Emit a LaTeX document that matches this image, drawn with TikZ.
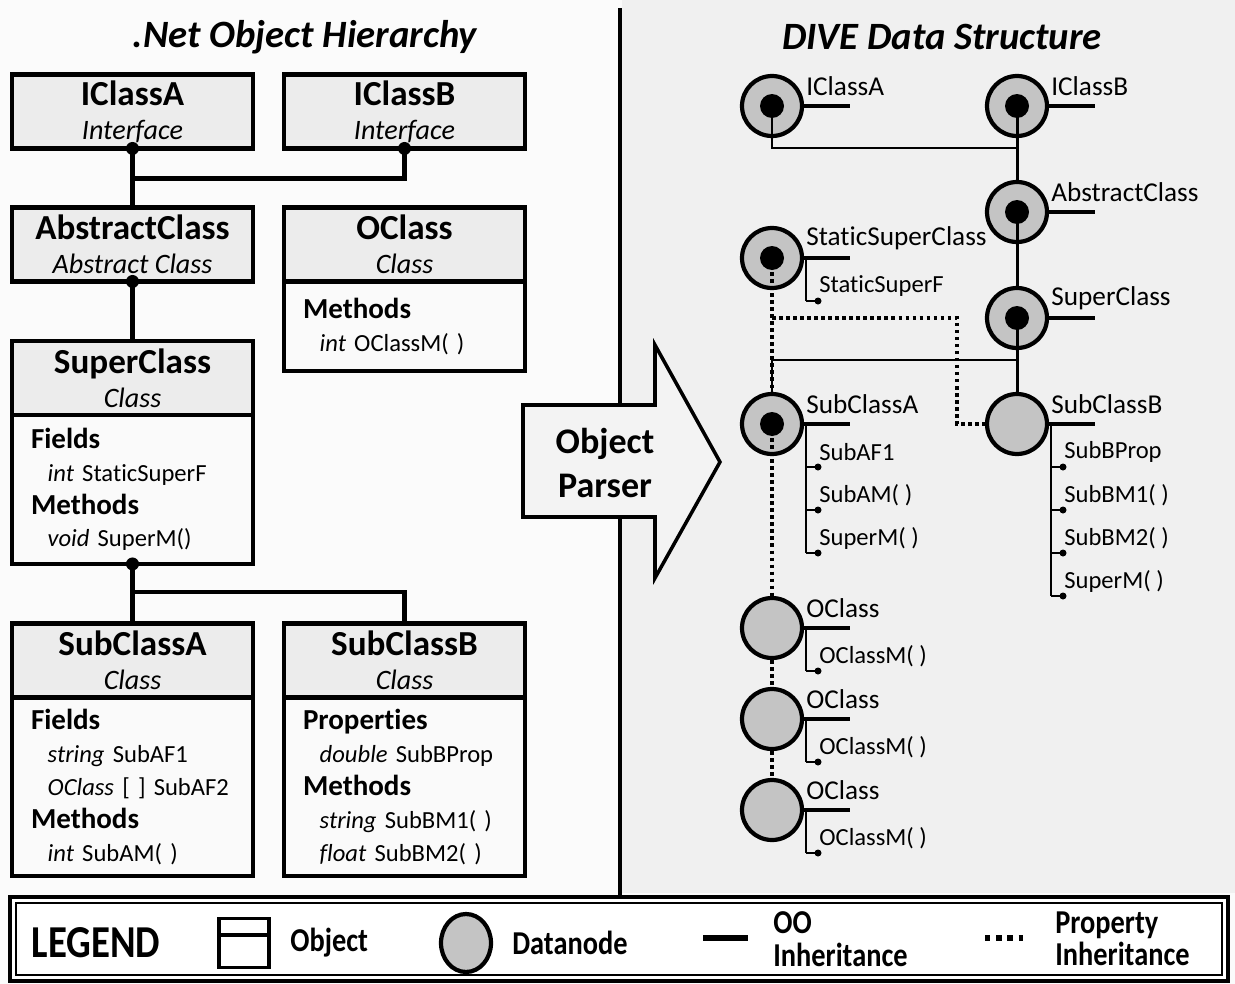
\documentclass[tikz,border=0pt]{standalone}
\usepackage{fontspec}
\setmainfont{Carlito}[Ligatures=NoCommon]
\newfontfamily\legendfont[FakeStretch=0.85,Ligatures=NoCommon]{Carlito}
\usetikzlibrary{shapes.geometric}

\definecolor{pagebg}{RGB}{251,251,251}
\definecolor{rightbg}{RGB}{240,240,240}
\definecolor{headfill}{RGB}{236,236,236}
\definecolor{bodyfill}{RGB}{250,250,250}
\definecolor{dnodefill}{RGB}{196,196,196}
\definecolor{parserfill}{RGB}{243,243,243}

\newcommand\ttl[1]{{\fontsize{20}{20}\selectfont\bfseries\upshape #1}}
\newcommand\sect[1]{{\fontsize{16.5}{18.7}\selectfont\bfseries #1}}
\newcommand\memb[2]{\hspace*{9.5pt}\textit{#1} #2}

\begin{document}
\begin{tikzpicture}[x=0.02cm,y=-0.02cm,
  hdbox/.style={draw,fill=headfill,line width=2.3pt,outer sep=0pt,inner sep=0pt,
    minimum width=4.82cm,minimum height=1.48cm,align=center,
    font=\fontsize{16}{19.5}\selectfont\itshape},
  bdbox/.style={draw,fill=bodyfill,line width=2.3pt,outer sep=0pt,inner sep=0pt,
    minimum width=4.82cm,text width=4.06cm,align=left,anchor=north,
    font=\fontsize{14}{18.7}\selectfont},
  link/.style={line width=2.4pt},
  dnode/.style={circle,draw,fill=dnodefill,line width=2.4pt,minimum size=1.2cm,inner sep=0pt},
  core/.style={circle,fill=black,minimum size=0.48cm,inner sep=0pt},
  stub/.style={line width=2.3pt},
  twig/.style={line width=1.1pt},
  leaf/.style={circle,fill=black,minimum size=0.14cm,inner sep=0pt},
  oo/.style={line width=1.7pt},
  propline/.style={line width=2pt,dash pattern=on 2pt off 2pt},
  dlabel/.style={anchor=west,inner sep=0pt,font=\fontsize{15.5}{15.5}\selectfont},
  itemtext/.style={anchor=west,inner sep=0pt,font=\fontsize{14}{14}\selectfont},
  paneltitle/.style={font=\fontsize{22}{22}\selectfont\bfseries\itshape},
  lgtext/.style={anchor=west,inner sep=0pt,align=left,
    font=\legendfont\fontsize{19}{18.5}\selectfont\bfseries}]

\useasboundingbox (0,0) rectangle (1235,984);
\fill[pagebg] (0,0) rectangle (1235,984);
\fill[rightbg] (622,0) rectangle (1235,893);

\node[paneltitle] (lefttitle) at (305,37) {.Net Object Hierarchy};
\node[paneltitle] (righttitle) at (942,37) {DIVE Data Structure};

\draw[line width=2.8pt] (620,8) -- (620,895);

\node[hdbox] (ia) at (132.5,111.5) {\ttl{IClassA}\\Interface};
\node[hdbox] (ib) at (404.5,111.5) {\ttl{IClassB}\\Interface};
\node[hdbox] (ac) at (132.5,244.5) {\ttl{AbstractClass}\\Abstract Class};
\node[hdbox] (oc) at (404.5,244.5) {\ttl{OClass}\\Class};
\node[bdbox,minimum height=1.8cm] (ocb) at (oc.south) {\sect{Methods}\\\memb{int}{OClassM( )}};
\node[hdbox] (sc) at (132.5,378) {\ttl{SuperClass}\\Class};
\node[bdbox,minimum height=2.98cm] (scb) at (sc.south) {\sect{Fields}\\\memb{int}{StaticSuperF}\\\sect{Methods}\\\memb{void}{SuperM()}};
\node[hdbox] (sa) at (132.5,660.5) {\ttl{SubClassA}\\Class};
\node[bdbox,minimum height=3.58cm] (sab) at (sa.south) {\sect{Fields}\\\memb{string}{SubAF1}\\\memb{OClass}{[ ] SubAF2}\\\sect{Methods}\\\memb{int}{SubAM( )}};
\node[hdbox] (sb) at (404.5,660.5) {\ttl{SubClassB}\\Class};
\node[bdbox,minimum height=3.58cm] (sbb) at (sb.south) {\sect{Properties}\\\memb{double}{SubBProp}\\\sect{Methods}\\\memb{string}{SubBM1( )}\\\memb{float}{SubBM2( )}};

\draw[link] (ia.south) -- (ac.north);
\draw[link] (ia.south) ++(0,30) -| (ib.south);
\draw[link] (ac.south) -- (sc.north);
\draw[link] (scb.south) -- (sa.north);
\draw[link] (scb.south) ++(0,28) -| (sb.north);
\foreach \n in {ia,ib,ac,scb} \fill (\n.south) circle (3.7pt);

\draw[line width=2pt,fill=parserfill] (523,405) -- (655,405) -- (655,345) -- (720,462)
  -- (655,578) -- (655,517) -- (523,517) -- cycle;
\node[font=\fontsize{20.5}{25}\selectfont\bfseries,align=center] (parser) at (605,463) {Object\\Parser};

\node[dnode] (nia) at (772,106) {};
\node[dnode] (nib) at (1017,106) {};
\node[dnode] (nac) at (1017,212) {};
\node[dnode] (nss) at (772,258) {};
\node[dnode] (nsc) at (1017,318) {};
\node[dnode] (nsa) at (772,424) {};
\node[dnode] (nsb) at (1017,424) {};
\node[dnode] (no1) at (772,628) {};
\node[dnode] (no2) at (772,719) {};
\node[dnode] (no3) at (772,810) {};

\foreach \n/\t in {nia/IClassA,nib/IClassB,nac/AbstractClass,nss/StaticSuperClass,nsc/SuperClass,
    nsa/SubClassA,nsb/SubClassB,no1/OClass,no2/OClass,no3/OClass}
  \node[dlabel] (\n-l) at ([shift={(34,-20)}]\n.center) {\t};
\foreach \n in {nia,nib,nac,nss,nsc,nsa,nsb,no1,no2,no3}
  \draw[stub] (\n.east) -- ++(46,0);

\foreach \n/\m in {nss/1,nsa/3,nsb/4,no1/1,no2/1,no3/1}
  \draw[twig] (\n.center) ++(34,0) -- ++(0,43*\m);
\foreach \n/\list in {nss/{StaticSuperF},nsa/{SubAF1,SubAM( ),SuperM( )},
    nsb/{SubBProp,SubBM1( ),SubBM2( ),SuperM( )},no1/{OClassM( )},no2/{OClassM( )},no3/{OClassM( )}}
  \foreach \t [count=\k] in \list {
    \draw[twig] (\n.center) ++(34,43*\k) -- ++(12,0) node[leaf] (\n-\k) {};
    \node[itemtext] (\n-t\k) at ([shift={(1,-15)}]\n-\k.center) {\t};
  }

\draw[propline] (nss.center) -- (nsa.north);
\draw[propline] (nss.center) ++(0,60) -- ++(185,0) |- (nsb.west);
\draw[propline] (nsa.center) -- (no1.north);
\draw[propline] (no1.south) -- (no2.north);
\draw[propline] (no2.south) -- (no3.north);

\draw[oo] (nia.center) -- ++(0,42) -| (nac.north);
\draw[oo] (nib.center) -- (nac.north);
\draw[oo] (nac.center) -- (nsc.north);
\draw[oo] (nsc.center) -- (nsb.north);
\draw[oo] (nsc.center) ++(0,42) -| (nsa.north);
\foreach \n in {nia,nib,nac,nss,nsc,nsa} \node[core] (\n-c) at (\n.center) {};

\draw[line width=2.4pt,fill=white] (10,897) rectangle (1228,981);
\draw[line width=0.7pt] (16,903) rectangle (1222,975);
\node[font=\legendfont\fontsize{26}{26}\selectfont\bfseries] (legend) at (96,943) {LEGEND};
\node[draw,line width=2.2pt,minimum width=1.0cm,minimum height=0.98cm,inner sep=0pt] (lgobj) at (244,943) {};
\draw[line width=2.2pt] (lgobj.west |- 0,935) -- (lgobj.east |- 0,935);
\node[lgtext] (lgobjt) at (290,943) {Object};
\node[dnode,ellipse,minimum width=1.0cm,minimum height=1.16cm] (lgdn) at (466,943) {};
\node[lgtext] (lgdnt) at (512,943) {Datanode};
\draw[line width=3pt] (703,938) -- (748,938);
\node[lgtext] (lgoo) at (773,939) {OO\\Inheritance};
\draw[line width=3pt,dash pattern=on 3pt off 3.4pt] (985,938) -- (1023,938);
\node[lgtext] (lgprop) at (1055,939) {Property\\Inheritance};

\end{tikzpicture}
\end{document}
